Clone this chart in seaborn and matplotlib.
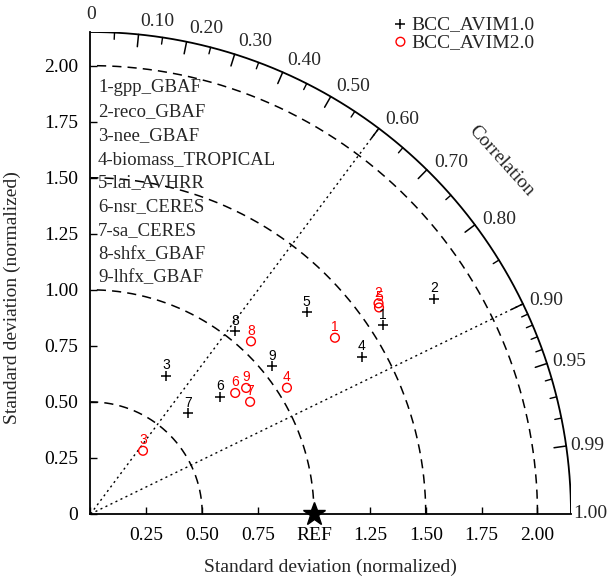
import numpy as np
import pandas as pd
import matplotlib
matplotlib.use("Agg")
import matplotlib.pyplot as plt
import seaborn as sns

# ---------------- data ----------------
names = ["gpp_GBAF", "reco_GBAF", "nee_GBAF", "biomass_TROPICAL", "lai_AVHRR",
         "nsr_CERES", "sa_CERES", "shfx_GBAF", "lhfx_GBAF"]
models = ["BCC_AVIM1.0", "BCC_AVIM2.0"]
std_v1 = [1.557, 1.813, 0.704, 1.401, 1.322, 0.780, 0.628, 1.040, 1.047]
corr_v1 = [0.841, 0.848, 0.480, 0.866, 0.732, 0.743, 0.697, 0.622, 0.777]
std_v2 = [1.347, 1.595, 0.367, 1.044, 1.586, 0.843, 0.872, 1.053, 0.895]
corr_v2 = [0.812, 0.808, 0.640, 0.842, 0.814, 0.768, 0.819, 0.682, 0.778]

std_ticks = [0, 0.25, 0.5, 0.75, 1.0, 1.25, 1.5, 1.75, 2.0]
x_tick_labels = ["", "0.25", "0.50", "0.75", "REF", "1.25", "1.50", "1.75", "2.00"]
y_tick_labels = ["0", "0.25", "0.50", "0.75", "1.00", "1.25", "1.50", "1.75", "2.00"]
corr_major = [0.0, 0.1, 0.2, 0.3, 0.4, 0.5, 0.6, 0.7, 0.8, 0.9, 0.95, 0.99, 1.0]
corr_major_labels = ["0", "0.10", "0.20", "0.30", "0.40", "0.50", "0.60", "0.70",
                     "0.80", "0.90", "0.95", "0.99", "1.00"]
corr_minor = [0.05, 0.15, 0.25, 0.35, 0.45, 0.55, 0.65, 0.75, 0.85,
              0.91, 0.92, 0.93, 0.94, 0.96, 0.97, 0.98]
std_arcs = [0.5, 1.0, 1.5, 2.0]
corr_lines = [0.6, 0.9]
RMAX = 2.15

# ---------------- build table ----------------
rows = []
for m, sv, cv in ((models[0], std_v1, corr_v1), (models[1], std_v2, corr_v2)):
    for i, (s, c) in enumerate(zip(sv, cv)):
        th = np.arccos(c)
        rows.append({"model": m, "idx": i + 1, "std": s, "corr": c,
                     "x": s * np.cos(th), "y": s * np.sin(th)})
df = pd.DataFrame(rows)

sns.set_style("white")
plt.rcParams["font.family"] = ["Liberation Serif", "DejaVu Serif"]

FS = 14
fig = plt.figure(figsize=(6.10, 5.76), dpi=100)
ax = fig.add_axes([90.5 / 610, 62 / 576, 480.5 / 610, 482 / 576])
ax.set_xlim(0, RMAX)
ax.set_ylim(0, RMAX)

# grid arcs / lines
t = np.linspace(0, np.pi / 2, 400)
for r in std_arcs:
    ax.plot(r * np.cos(t), r * np.sin(t), color="black", lw=1.1,
            ls=(0, (6, 4)), zorder=1)
ax.plot(RMAX * np.cos(t), RMAX * np.sin(t), color="black", lw=1.3, zorder=2)
for c in corr_lines:
    th = np.arccos(c)
    ax.plot([0, RMAX * np.cos(th)], [0, RMAX * np.sin(th)], color="black",
            lw=1.0, ls=(0, (1.5, 2.5)), zorder=1)

# correlation ticks + labels
for c in corr_major[1:-1]:
    th = np.arccos(c)
    ax.plot([RMAX * np.cos(th), (RMAX - 0.055) * np.cos(th)],
            [RMAX * np.sin(th), (RMAX - 0.055) * np.sin(th)], color="black", lw=1.1,
            clip_on=False)
for c in corr_minor:
    th = np.arccos(c)
    ax.plot([RMAX * np.cos(th), (RMAX - 0.03) * np.cos(th)],
            [RMAX * np.sin(th), (RMAX - 0.03) * np.sin(th)], color="black", lw=1.0,
            clip_on=False)
for c, lab in zip(corr_major, corr_major_labels):
    th = np.arccos(c)
    r_lab = 2.16 + 0.05 * np.sin(th)
    if c == 0.0:
        r_lab = 2.23
    ax.text(r_lab * np.cos(th) - (0.02 if c == 0.0 else 0), r_lab * np.sin(th), lab,
            ha="left", va="center", fontsize=FS, clip_on=False)
thc = np.deg2rad(40.6)
ax.text(2.42 * np.cos(thc), 2.42 * np.sin(thc), "Correlation", rotation=-48,
        ha="center", va="center", fontsize=FS, rotation_mode="anchor")

# points
d1 = df[df["model"] == models[0]]
d2 = df[df["model"] == models[1]]
sns.scatterplot(data=d1, x="x", y="y", marker="+", color="black", s=45,
                linewidth=1.1, ax=ax, label=models[0], zorder=5, clip_on=False)
sns.scatterplot(data=d2, x="x", y="y", marker="o", facecolors="none",
                edgecolor="red", s=40, linewidth=1.0, ax=ax, label=models[1],
                zorder=5, clip_on=False)
for _, r in df.iterrows():
    col = "black" if r["model"] == models[0] else "red"
    ax.annotate(str(int(r["idx"])), (r["x"], r["y"]), xytext=(0, 2.5),
                textcoords="offset points", ha="center", va="bottom",
                fontsize=10, color=col, zorder=6, family="Liberation Sans")

# reference star
ax.plot([1.0], [0.0], marker="*", color="black", markersize=17, clip_on=False,
        zorder=7)

# axes
for sp in ["top", "right"]:
    ax.spines[sp].set_visible(False)
for sp in ["left", "bottom"]:
    ax.spines[sp].set_linewidth(1.3)
    ax.spines[sp].set_color("black")
ax.set_xticks(std_ticks)
ax.set_xticklabels(x_tick_labels)
ax.set_yticks(std_ticks)
ax.set_yticklabels(y_tick_labels)
ax.tick_params(axis="both", direction="in", length=5, width=1.0, pad=9,
               labelsize=FS, colors="black", left=True, bottom=True)
ax.set_xlabel("Standard deviation (normalized)", fontsize=FS)
ax.set_ylabel("Standard deviation (normalized)", fontsize=FS)
ax.xaxis.set_label_coords(0.5, -0.093)
ax.yaxis.set_label_coords(-0.145, 0.45)

# legend
leg = ax.legend(loc="upper left", bbox_to_anchor=(380 / 610, 1 - 2 / 576),
                bbox_transform=fig.transFigure, frameon=False, fontsize=FS,
                handlelength=0.7, handletextpad=0.2, labelspacing=0.0,
                borderpad=0.2)

# item list
for i, n in enumerate(names):
    fig.text(98 / 610, 1 - (88 + i * 23.75) / 576, f"{i + 1}-{n}", ha="left",
             va="center", fontsize=13.5)

fig.savefig("out.png", dpi=100)
